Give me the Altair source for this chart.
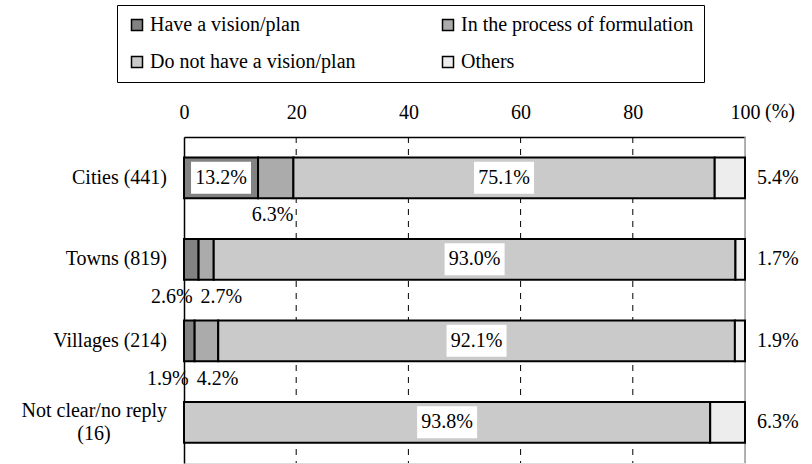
import altair as alt
import pandas as pd

# Survey: whether municipalities have a vision/plan (%)
categories = ["Cities (441)", "Towns (819)", "Villages (214)", "Not clear/no reply (16)"]
category_lines = [["Cities (441)"], ["Towns (819)"], ["Villages (214)"], ["Not clear/no reply", "(16)"]]
statuses = ["Have a vision/plan", "In the process of formulation",
            "Do not have a vision/plan", "Others"]
have_plan = [13.2, 2.6, 1.9, 0.0]
formulating = [6.3, 2.7, 4.2, 0.0]
no_plan = [75.1, 93.0, 92.1, 93.8]
others = [5.4, 1.7, 1.9, 6.3]
x_ticks = [0, 20, 40, 60, 80, 100]
grid_ticks = [20, 40, 60, 80]

FONT = "Liberation Serif"
FS = 20
fills = ["#828282", "#ababab", "#cacaca", "#ededed"]

# ---- segment table (start/end of each stacked piece) ----
seg_rows, label_rows = [], []
for i, cat in enumerate(categories):
    vals = [have_plan[i], formulating[i], no_plan[i], others[i]]
    pos = 0.0
    bounds = []
    for s, v in zip(statuses, vals):
        bounds.append((pos, pos + v))
        if v > 0:
            seg_rows.append({"category": cat, "status": s, "start": pos, "end": pos + v})
        pos += v
    # where each value label goes
    have_inside = vals[0] >= 10
    if vals[0] > 0:
        if have_inside:
            label_rows.append({"category": cat, "text": f"{vals[0]:.1f}%",
                               "x": sum(bounds[0]) / 2, "kind": "inside"})
        else:
            label_rows.append({"category": cat, "text": f"{vals[0]:.1f}%",
                               "x": bounds[0][1], "kind": "below_before"})
    if vals[1] > 0:
        if have_inside:
            label_rows.append({"category": cat, "text": f"{vals[1]:.1f}%",
                               "x": bounds[1][1], "kind": "below_end"})
        else:
            label_rows.append({"category": cat, "text": f"{vals[1]:.1f}%",
                               "x": bounds[1][0], "kind": "below_after"})
    label_rows.append({"category": cat, "text": f"{vals[2]:.1f}%",
                       "x": sum(bounds[2]) / 2, "kind": "inside"})
    label_rows.append({"category": cat, "text": f"{vals[3]:.1f}%",
                       "x": 100, "kind": "outside"})

segments = pd.DataFrame(seg_rows)
labels = pd.DataFrame(label_rows)

name_rows = []
for cat, lines in zip(categories, category_lines):
    for j, line in enumerate(lines):
        name_rows.append({"category": cat, "line": line, "idx": j, "n": len(lines)})
names = pd.DataFrame(name_rows)

W, H = 561, 326
xscale = alt.Scale(domain=[0, 100], nice=False, zero=True, clamp=True)
yscale = alt.Scale(domain=categories, paddingInner=0.5, paddingOuter=0.25)

top_axis = alt.Axis(orient="top", values=x_ticks, ticks=False, tickSize=0, grid=False,
                    domain=True, domainColor="black", domainWidth=1.5,
                    labelFont=FONT, labelFontSize=FS, labelColor="black",
                    labelBaseline="middle", labelPadding=25, labelFlush=False,
                    title=None)
left_axis = alt.Axis(labels=False, ticks=False, tickSize=0, grid=False, domain=True,
                     domainColor="black", domainWidth=1.5, title=None)


def X(field):
    return alt.X(field, type="quantitative", scale=xscale, axis=top_axis, title=None)


def Y():
    return alt.Y("category:N", sort=categories, scale=yscale, axis=left_axis, title=None)


grid = alt.Chart(pd.DataFrame({"x": grid_ticks})).mark_rule(
    color="black", strokeWidth=1, strokeDash=[6, 6]
).encode(x=X("x"))

edge = alt.Chart(pd.DataFrame({"x": [100]})).mark_rule(
    color="#9a9a9a", strokeWidth=1.5
).encode(x=X("x"))

bars = alt.Chart(segments).mark_bar(stroke="black", strokeWidth=2).encode(
    x=X("start"),
    x2="end:Q",
    y=Y(),
    color=alt.Color(
        "status:N",
        scale=alt.Scale(domain=statuses, range=fills),
        legend=alt.Legend(
            title=None, orient="none", legendX=-67, legendY=-132,
            direction="horizontal", columns=2,
            symbolType="square", symbolSize=121,
            symbolStrokeColor="black", symbolStrokeWidth=1.5,
            labelFont=FONT, labelFontSize=FS, labelColor="black",
            labelLimit=0, labelOffset=3, strokeColor="black",
            fillColor="white", padding=10, rowPadding=17, columnPadding=82,
        ),
    ),
)

# white backing boxes behind the in-bar labels
box_path = "M-1,-0.533H1V0.533H-1Z"
boxes = alt.Chart(labels).transform_filter(alt.datum.kind == "inside").mark_point(
    shape=box_path, size=3600, filled=True, color="white", opacity=1, strokeWidth=0
).encode(x=X("x"), y=Y())

placements = {
    "inside": dict(align="center", dx=0, dy=0),
    "below_end": dict(align="right", dx=0, dy=37),
    "below_before": dict(align="right", dx=-6, dy=38),
    "below_after": dict(align="left", dx=2, dy=38),
    "outside": dict(align="left", dx=12, dy=0),
}
text_layers = []
for kind, opts in placements.items():
    text_layers.append(
        alt.Chart(labels).transform_filter(alt.datum.kind == kind).mark_text(
            baseline="middle", font=FONT, fontSize=FS, color="black", **opts
        ).encode(x=X("x"), y=Y(), text="text:N")
    )

# category names on the left
single = alt.Chart(names).transform_filter(alt.datum.n == 1).mark_text(
    align="right", baseline="middle", font=FONT, fontSize=FS, color="black"
).encode(x=alt.value(-17), y=Y(), text="line:N")
multi_first = alt.Chart(names).transform_filter(
    (alt.datum.n == 2) & (alt.datum.idx == 0)
).mark_text(
    align="right", baseline="middle", font=FONT, fontSize=FS, color="black", dy=-11
).encode(x=alt.value(-17), y=Y(), text="line:N")
multi_second = alt.Chart(names).transform_filter(
    (alt.datum.n == 2) & (alt.datum.idx == 1)
).mark_text(
    align="center", baseline="middle", font=FONT, fontSize=FS, color="black", dy=12
).encode(x=alt.value(-90), y=Y(), text="line:N")

unit = alt.Chart(pd.DataFrame({"x": [100], "t": ["(%)"]})).mark_text(
    align="left", baseline="middle", font=FONT, fontSize=FS, color="black", dx=20
).encode(x=X("x"), y=alt.value(-25), text="t:N")

chart = alt.layer(
    grid, edge, bars, boxes, *text_layers, single, multi_first, multi_second, unit
).properties(
    width=W, height=H,
    autosize=alt.AutoSizeParams(type="none"),
    padding={"left": 184, "top": 137, "right": 67, "bottom": 1},
).configure_view(stroke=None).configure(font=FONT, background="white")

chart.save("out.html", embed_options={"renderer": "svg", "actions": False})
